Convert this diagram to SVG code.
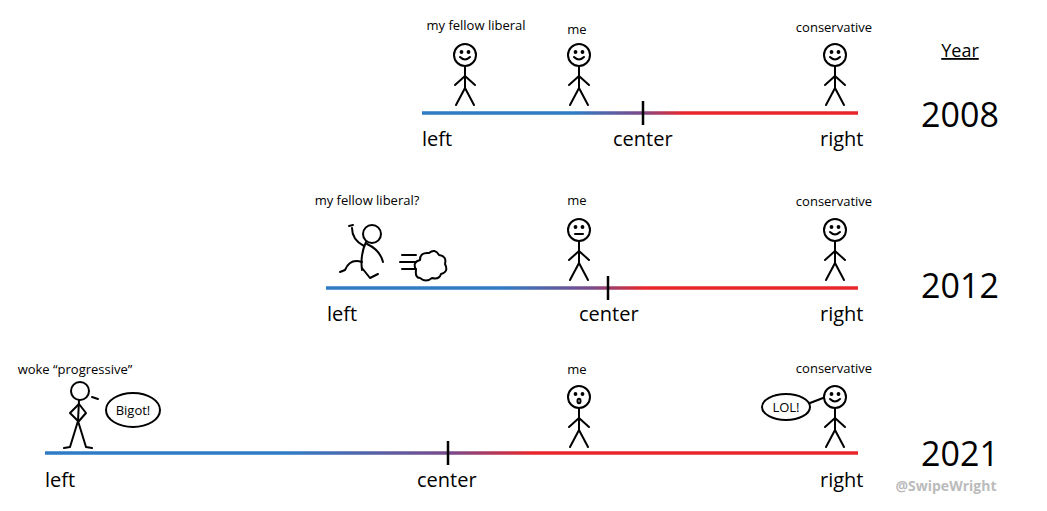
<svg xmlns="http://www.w3.org/2000/svg" width="1047" height="511" viewBox="0 0 1047 511">
<style>
.s{fill:none;stroke:#000;stroke-width:2;stroke-linecap:round;stroke-linejoin:round}
.t{font-family:"Open Sans","Liberation Sans",sans-serif;font-size:13px;fill:#000}
.a{font-family:"Open Sans","Liberation Sans",sans-serif;font-size:20px;fill:#000}
.y{font-family:"Open Sans","Liberation Sans",sans-serif;font-size:34px;fill:#000;text-anchor:middle}
.ax{stroke-width:3.5;fill:none}
.tk{stroke:#000;stroke-width:2.5}
</style>
<defs>
<g id="fig" class="s"><circle cx="0" cy="0" r="11"/><line x1="0" y1="11" x2="0" y2="33"/><line x1="0" y1="21" x2="-10" y2="30"/><line x1="0" y1="21" x2="10" y2="30"/><line x1="0" y1="33" x2="-9" y2="50"/><line x1="0" y1="33" x2="9" y2="50"/><circle cx="-3.5" cy="-3" r="0.9" fill="#000"/><circle cx="3.5" cy="-3" r="0.9" fill="#000"/></g>
<path id="smile" class="s" d="M-5,2 Q0,7 5,2"/>
<linearGradient id="g1" gradientUnits="userSpaceOnUse" x1="422" y1="0" x2="858" y2="0"><stop offset="0.35" stop-color="#2f7bc4"/><stop offset="0.5" stop-color="#7a4a8a"/><stop offset="0.6" stop-color="#e8262b"/></linearGradient>
<linearGradient id="g2" gradientUnits="userSpaceOnUse" x1="326" y1="0" x2="858" y2="0"><stop offset="0.33" stop-color="#2f7bc4"/><stop offset="0.5" stop-color="#7a4a8a"/><stop offset="0.6" stop-color="#e8262b"/></linearGradient>
<linearGradient id="g3" gradientUnits="userSpaceOnUse" x1="45" y1="0" x2="858" y2="0"><stop offset="0.3" stop-color="#2f7bc4"/><stop offset="0.5" stop-color="#7a4a8a"/><stop offset="0.6" stop-color="#e8262b"/></linearGradient>
</defs>
<g id="connectors">
<line class="ax" stroke="url(#g1)" x1="422" y1="113" x2="858" y2="113"/>
<line class="tk" x1="643" y1="101" x2="643" y2="125"/>
<line class="ax" stroke="url(#g2)" x1="326" y1="288" x2="858" y2="288"/>
<line class="tk" x1="608" y1="276" x2="608" y2="300"/>
<line class="ax" stroke="url(#g3)" x1="45" y1="453" x2="858" y2="453"/>
<line class="tk" x1="448" y1="441" x2="448" y2="465"/>
</g>
<g id="row2008">
<text class="a" x="422" y="146">left</text><text class="a" x="613" y="146">center</text><text class="a" x="820" y="146">right</text>
<text class="t" x="476" y="30" text-anchor="middle">my fellow liberal</text><use href="#fig" x="465" y="55"/><use href="#smile" x="465" y="55"/>
<text class="t" x="577" y="34" text-anchor="middle">me</text><use href="#fig" x="579" y="55"/><use href="#smile" x="579" y="55"/>
<text class="t" x="834" y="32" text-anchor="middle">conservative</text><use href="#fig" x="835" y="55"/><use href="#smile" x="835" y="55"/>
</g>
<g id="row2012">
<text class="a" x="327" y="321">left</text><text class="a" x="579" y="321">center</text><text class="a" x="820" y="321">right</text>
<text class="t" x="367" y="205" text-anchor="middle">my fellow liberal?</text>
<g class="s" stroke-width="2.8"><circle cx="372" cy="234" r="9"/><path d="M366,242 Q360,255 362,270"/><path d="M364,246 Q352,240 352,228 M349,226 l4,-1"/><path d="M367,244 Q380,250 383,262"/><path d="M362,262 Q350,258 345,270 L340,272"/><path d="M362,268 L370,278 L378,274"/></g>
<g class="s"><path d="M402,255 h14 M400,262 h16 M402,269 h14"/><path d="M416,270 q-4,-8 4,-10 q0,-8 9,-7 q6,-5 10,2 q8,1 6,9 q4,8 -4,10 q-2,6 -9,4 q-6,5 -12,0 q-5,0 -4,-8"/></g>
<text class="t" x="577" y="205" text-anchor="middle">me</text><use href="#fig" x="579" y="230"/><line class="s" x1="575" y1="234" x2="583" y2="234"/>
<text class="t" x="834" y="206" text-anchor="middle">conservative</text><use href="#fig" x="835" y="230"/><use href="#smile" x="835" y="230"/>
</g>
<g id="row2021">
<text class="a" x="45" y="487">left</text><text class="a" x="417" y="487">center</text><text class="a" x="820" y="487">right</text>
<text class="t" x="75" y="374" text-anchor="middle">woke “progressive”</text>
<g class="s" stroke-width="3"><circle cx="80" cy="391" r="9"/><line x1="79" y1="400" x2="78" y2="421"/><path d="M79,404 L70,413 L78,421 M79,404 L86,413 L79,421"/><path d="M78,421 L70,447 L64,448 M78,421 L86,447 L92,448"/></g>
<line class="s" x1="92" y1="397" x2="98" y2="399"/>
<ellipse class="s" cx="133" cy="410" rx="27" ry="17"/><text class="t" x="133" y="415" text-anchor="middle">Bigot!</text>
<text class="t" x="577" y="374" text-anchor="middle">me</text><use href="#fig" x="579" y="397"/><ellipse class="s" cx="579" cy="401" rx="1.5" ry="2.2"/>
<text class="t" x="834" y="373" text-anchor="middle">conservative</text><use href="#fig" x="835" y="397"/><use href="#smile" x="835" y="397"/>
<ellipse class="s" cx="786" cy="407" rx="24" ry="13"/><text class="t" x="786" y="412" text-anchor="middle">LOL!</text><line class="s" x1="810" y1="403" x2="823" y2="398"/>
</g>
<g id="years">
<text x="960" y="57" font-family="Open Sans,Liberation Sans,sans-serif" font-size="18" text-anchor="middle" text-decoration="underline">Year</text>
<text class="y" x="960" y="127">2008</text><text class="y" x="960" y="298">2012</text><text class="y" x="960" y="466">2021</text>
<text x="946" y="491" font-family="Open Sans,Liberation Sans,sans-serif" font-size="14" font-weight="bold" fill="#bbb" text-anchor="middle">@SwipeWright</text>
</g>
</svg>
